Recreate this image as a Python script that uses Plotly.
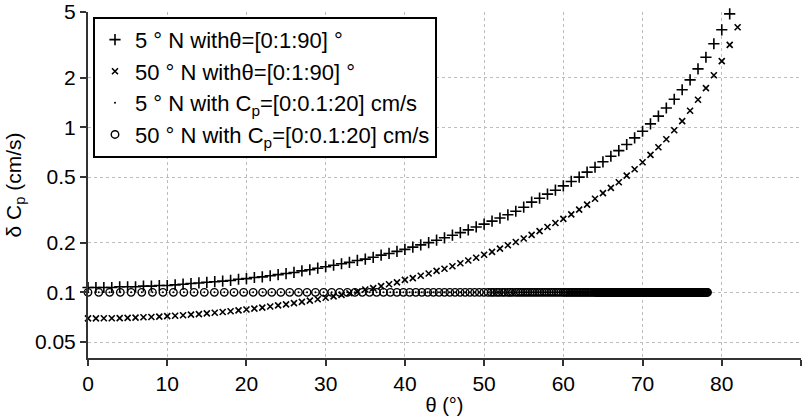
import plotly.graph_objects as go

# ---------------- data ----------------
theta_5N = list(range(0, 82))          # degrees, 0..81 (higher values fall off the axis)
dcp_5N = [0.107, 0.107, 0.107, 0.107, 0.108, 0.108, 0.108, 0.109, 0.109, 0.110,
          0.110, 0.111, 0.112, 0.113, 0.114, 0.115, 0.116, 0.117, 0.118, 0.120,
          0.121, 0.123, 0.124, 0.126, 0.128, 0.130, 0.132, 0.135, 0.137, 0.140,
          0.143, 0.146, 0.149, 0.152, 0.156, 0.159, 0.163, 0.168, 0.172, 0.177,
          0.182, 0.188, 0.194, 0.200, 0.207, 0.214, 0.222, 0.230, 0.239, 0.249,
          0.259, 0.270, 0.282, 0.295, 0.310, 0.328, 0.352, 0.372, 0.394, 0.416,
          0.442, 0.470, 0.499, 0.535, 0.573, 0.618, 0.668, 0.723, 0.787, 0.863,
          0.947, 1.05, 1.17, 1.31, 1.48, 1.69, 1.94, 2.26, 2.66, 3.21,
          3.90, 4.87]

theta_50N = list(range(0, 83))         # degrees, 0..82
dcp_50N = [0.0695, 0.0695, 0.0696, 0.0697, 0.0698, 0.0700, 0.0703, 0.0706, 0.0709, 0.0712,
           0.0717, 0.0721, 0.0726, 0.0732, 0.0738, 0.0745, 0.0752, 0.0760, 0.0768, 0.0777,
           0.0787, 0.0797, 0.0808, 0.0820, 0.0833, 0.0846, 0.0860, 0.0875, 0.0891, 0.0908,
           0.0927, 0.0946, 0.0966, 0.0988, 0.101, 0.104, 0.106, 0.109, 0.112, 0.115,
           0.119, 0.122, 0.126, 0.130, 0.135, 0.139, 0.144, 0.150, 0.156, 0.162,
           0.169, 0.176, 0.184, 0.193, 0.202, 0.212, 0.223, 0.235, 0.249, 0.263,
           0.279, 0.297, 0.317, 0.340, 0.369, 0.399, 0.430, 0.465, 0.510, 0.557,
           0.614, 0.681, 0.757, 0.847, 0.960, 1.09, 1.26, 1.47, 1.73, 2.07,
           2.52, 3.16, 4.04]

# angles at which the C_p sweep points sit (denser toward the end)
theta_cp = [0.0, 1.36, 2.73, 4.08, 5.44, 6.79, 8.13, 9.46, 10.78, 12.10,
            13.39, 14.68, 15.95, 17.20, 18.43, 19.65, 20.85, 22.04, 23.20, 24.34,
            25.46, 26.57, 27.65, 28.71, 29.74, 30.76, 31.76, 32.74, 33.69, 34.62,
            35.54, 36.43, 37.30, 38.16, 38.99, 39.81, 40.60, 41.38, 42.14, 42.88,
            43.60, 44.31, 45.00, 45.67, 46.33, 46.97, 47.60, 48.21, 48.81, 49.40,
            49.97, 50.5, 50.9, 51.2, 51.6, 51.9, 52.3, 52.6, 53.0, 53.3,
            53.6, 54.0, 54.3, 54.6, 54.9, 55.2, 55.5, 55.8, 56.1, 56.4,
            56.7, 57.0, 57.3, 57.6, 57.9, 58.2, 58.5, 58.8, 59.1, 59.4,
            59.7, 60.0, 60.2, 60.4, 60.6, 60.8, 61.0, 61.2, 61.4, 61.6,
            61.8, 62.0, 62.2, 62.4, 62.6, 62.8, 63.0, 63.2, 63.4, 63.6,
            63.8, 64.0,
            64.1, 64.2, 64.3, 64.4, 64.5, 64.6, 64.7, 64.8, 64.9, 65.0,
            65.1, 65.2, 65.3, 65.4, 65.5, 65.6, 65.7, 65.8, 65.9, 66.0,
            66.1, 66.2, 66.3, 66.4, 66.5, 66.6, 66.7, 66.8, 66.9, 67.0,
            67.1, 67.2, 67.3, 67.4, 67.5, 67.6, 67.7, 67.8, 67.9, 68.0,
            68.1, 68.2, 68.3, 68.4, 68.5, 68.6, 68.7, 68.8, 68.9, 69.0,
            69.1, 69.2, 69.3, 69.4, 69.5, 69.6, 69.7, 69.8, 69.9, 70.0,
            70.1, 70.2, 70.3, 70.4, 70.5, 70.6, 70.7, 70.8, 70.9, 71.0,
            71.1, 71.2, 71.3, 71.4, 71.5, 71.6, 71.7, 71.8, 71.9, 72.0,
            72.1, 72.2, 72.3, 72.4, 72.5, 72.6, 72.7, 72.8, 72.9, 73.0,
            73.1, 73.2, 73.3, 73.4, 73.5, 73.6, 73.7, 73.8, 73.9, 74.0,
            74.1, 74.2, 74.3, 74.4, 74.5, 74.6, 74.7, 74.8, 74.9, 75.0,
            75.1, 75.2, 75.3, 75.4, 75.5, 75.6, 75.7, 75.8, 75.9, 76.0,
            76.1, 76.2, 76.3, 76.4, 76.5, 76.6, 76.7, 76.8, 76.9, 77.0,
            77.1, 77.2, 77.3, 77.4, 77.5, 77.6, 77.7, 77.8, 77.9, 78.0,
            78.1, 78.2]
dcp_cp_5N = [0.1] * len(theta_cp)
dcp_cp_50N = [0.1] * len(theta_cp)

names = ["5 ° N withθ=[0:1:90] °",
         "50 ° N withθ=[0:1:90] °",
         "5 ° N with C<sub>p</sub>=[0:0.1:20] cm/s",
         "50 ° N with C<sub>p</sub>=[0:0.1:20] cm/s"]

y_tickvals = [0.05, 0.1, 0.2, 0.5, 1, 2, 5]
y_ticktext = ["0.05", "0.1", "0.2", "0.5", "1", "2", "5"]
x_tickvals = [0, 10, 20, 30, 40, 50, 60, 70, 80, 90]

# ---------------- figure ----------------
FONT = "Liberation Sans, Arial, Helvetica, sans-serif"
fig = go.Figure()

fig.add_trace(go.Scatter(
    x=theta_5N, y=dcp_5N, mode="markers", name=names[0], cliponaxis=False,
    marker=dict(symbol="cross-thin-open", size=8, color="black",
                line=dict(color="black", width=1.6))))
fig.add_trace(go.Scatter(
    x=theta_50N, y=dcp_50N, mode="markers", name=names[1], cliponaxis=False,
    marker=dict(symbol="x-thin-open", size=6, color="black",
                line=dict(color="black", width=1.6))))
fig.add_trace(go.Scatter(
    x=theta_cp, y=dcp_cp_5N, mode="markers", name=names[2], cliponaxis=False,
    marker=dict(symbol="circle", size=2, color="black")))
fig.add_trace(go.Scatter(
    x=theta_cp, y=dcp_cp_50N, mode="markers", name=names[3], cliponaxis=False,
    marker=dict(symbol="circle-open", size=7.5, color="black",
                line=dict(color="black", width=1.4))))

fig.update_layout(
    width=811, height=416,
    margin=dict(l=88, r=10, t=12, b=58),
    paper_bgcolor="white", plot_bgcolor="white",
    font=dict(family=FONT, size=20, color="black"),
    showlegend=True,
    legend=dict(x=0.007, y=0.986, xanchor="left", yanchor="top",
                bgcolor="white", bordercolor="black", borderwidth=2,
                font=dict(family=FONT, size=22, color="black"),
                itemsizing="trace", tracegroupgap=0),
)

fig.update_xaxes(
    range=[0, 90], tickvals=x_tickvals, ticks="outside", ticklen=6, tickwidth=1.5,
    tickcolor="#333", showline=True, linecolor="#333", linewidth=2, mirror=False,
    showgrid=True, gridcolor="#bdbdbd", gridwidth=1, griddash="dot", zeroline=False,
    automargin=False,
    tickfont=dict(family=FONT, size=21, color="black"),
    title=dict(text="θ (°)", font=dict(family=FONT, size=20, color="black"), standoff=8),
)
fig.update_yaxes(
    type="log", range=[-1.398, 0.699], tickvals=y_tickvals, ticktext=y_ticktext,
    ticks="outside", ticklen=6, tickwidth=1.5, tickcolor="#333",
    showline=True, linecolor="#333", linewidth=2, mirror=False,
    showgrid=True, gridcolor="#bdbdbd", gridwidth=1, griddash="dot", zeroline=False,
    automargin=False,
    tickfont=dict(family=FONT, size=21, color="black"),
    title=dict(text="δ C<sub>p</sub> (cm/s)", font=dict(family=FONT, size=21, color="black"),
               standoff=8),
)

fig.write_html("out.html")
